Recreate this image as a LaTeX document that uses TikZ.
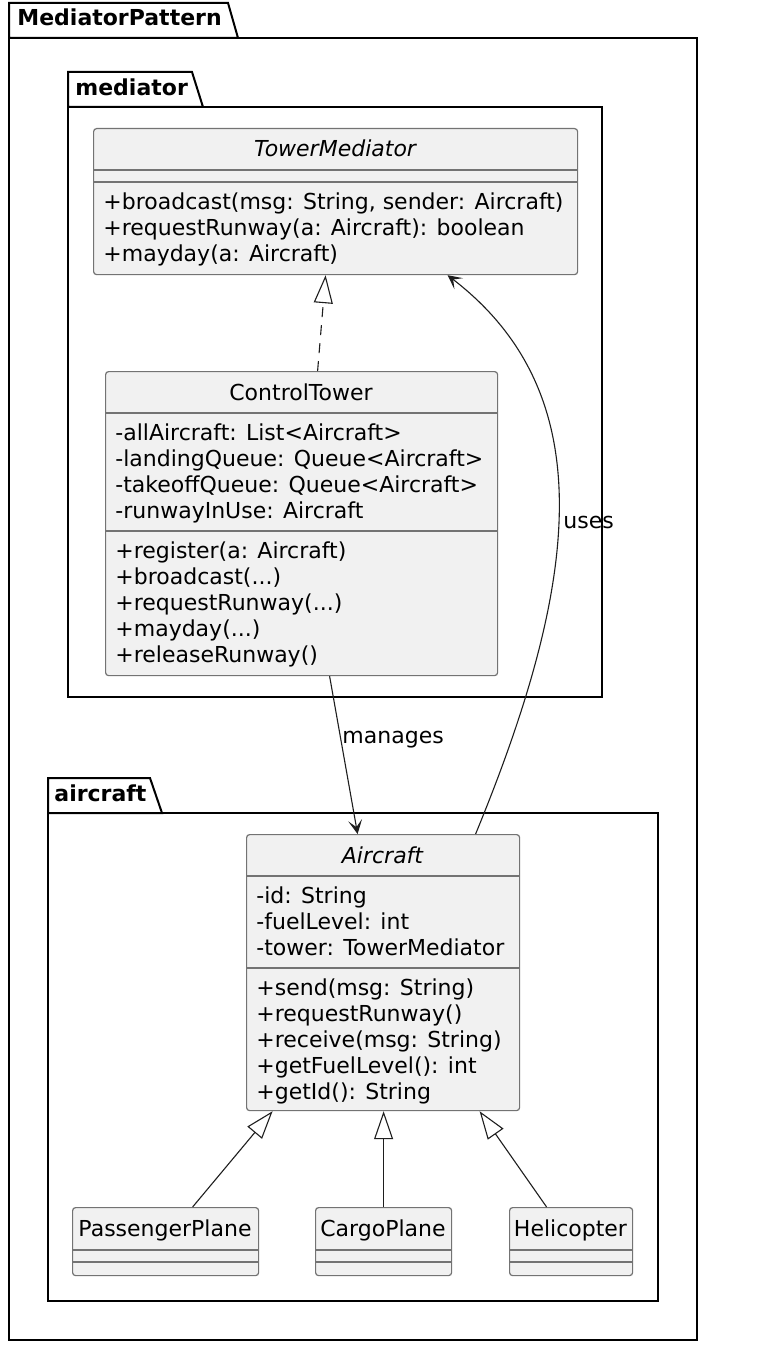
\documentclass[tikz,border=0pt]{standalone}
\usepackage{fontspec}
\setmainfont{DejaVu Sans}
\usepackage{tikz}
\usetikzlibrary{arrows.meta, calc}
\definecolor{umlfill}{RGB}{241,241,241}
\definecolor{umlline}{RGB}{115,115,115}
\definecolor{mydark}{RGB}{30,30,30}
\newcommand{\umlfont}{\fontsize{11pt}{13pt}\selectfont}
\tikzset{
  classbox/.style={rectangle, draw=umlline, fill=umlfill, anchor=north west,
    rounded corners=1.5pt, line width=0.6pt, inner sep=0pt},
  divline/.style={draw=umlline, line width=0.6pt},
  pkgline/.style={draw=black, line width=1pt},
  pkglabel/.style={anchor=base west, inner sep=0pt, font=\umlfont\bfseries},
  clsname/.style={anchor=base, inner sep=0pt, font=\umlfont},
  members/.style={anchor=north west, align=left, inner sep=0pt, font=\umlfont},
  lbl/.style={inner sep=0pt, font=\umlfont, text=black},
  realizes/.style={-{Triangle[open, length=14pt, width=9.5pt]},
    dash pattern=on 5pt off 4pt, line width=0.55pt, color=mydark},
  inherits/.style={-{Triangle[open, length=14pt, width=9.5pt]},
    line width=0.55pt, color=mydark},
  assoc/.style={-{Stealth[length=7pt, width=7pt, inset=3.5pt]},
    line width=0.55pt, color=mydark}
}

\begin{document}
\begin{tikzpicture}[x=0.5pt, y=-0.5pt]
  \path[use as bounding box, fill=white] (0,0) rectangle (756,1348);

  % packages
  \node[pkglabel] (pkgmain) at (17,26) {MediatorPattern};
  \draw[pkgline] (9,3) -- (228,3) -- (238,38) -- (9,38) -- cycle;
  \draw[pkgline] (9,38) rectangle (697,1340);

  \node[pkglabel] (pkgmed) at (75,96) {mediator};
  \draw[pkgline] (68,72) -- (192,72) -- (203,107) -- (68,107) -- cycle;
  \draw[pkgline] (68,107) rectangle (602,697);

  \node[pkglabel] (pkgair) at (54,801) {aircraft};
  \draw[pkgline] (48,778) -- (150,778) -- (162,813) -- (48,813) -- cycle;
  \draw[pkgline] (48,813) rectangle (658,1301);

  % TowerMediator
  \node[classbox, minimum width=242pt, minimum height=73pt] (tm) at (93,128) {};
  \node[clsname, font=\umlfont\itshape] (tmname) at (335,157) {TowerMediator};
  \draw[divline] (tm.west |- 0,170) -- (tm.east |- 0,170);
  \draw[divline] (tm.west |- 0,182) -- (tm.east |- 0,182);
  \node[members] (tmops) at (103,192.3) {+broadcast(msg: String, sender: Aircraft)\\
    +requestRunway(a: Aircraft): boolean\\+mayday(a: Aircraft)};

  % ControlTower
  \node[classbox, minimum width=196pt, minimum height=152pt] (ct) at (105,371) {};
  \node[clsname] (ctname) at (301,400) {ControlTower};
  \draw[divline] (ct.west |- 0,413) -- (ct.east |- 0,413);
  \draw[divline] (ct.west |- 0,531) -- (ct.east |- 0,531);
  \node[members] (ctattr) at (115,423.3) {-allAircraft: List<Aircraft>\\
    -landingQueue: Queue<Aircraft>\\-takeoffQueue: Queue<Aircraft>\\
    -runwayInUse: Aircraft};
  \node[members] (ctops) at (115,541.3) {+register(a: Aircraft)\\+broadcast(...)\\
    +requestRunway(...)\\+mayday(...)\\+releaseRunway()};

  % Aircraft
  \node[classbox, minimum width=136.5pt, minimum height=138pt] (air) at (246,834) {};
  \node[clsname, font=\umlfont\itshape] (airname) at (382.5,863) {Aircraft};
  \draw[divline] (air.west |- 0,876) -- (air.east |- 0,876);
  \draw[divline] (air.west |- 0,968) -- (air.east |- 0,968);
  \node[members] (airattr) at (256,886.3) {-id: String\\-fuelLevel: int\\
    -tower: TowerMediator};
  \node[members] (airops) at (256,978.3) {+send(msg: String)\\+requestRunway()\\
    +receive(msg: String)\\+getFuelLevel(): int\\+getId(): String};

  % subclasses
  \node[classbox, minimum width=93pt, minimum height=34pt] (pp) at (72,1207) {};
  \node[clsname] (ppname) at (165,1236) {PassengerPlane};
  \draw[divline] (pp.west |- 0,1250) -- (pp.east |- 0,1250);
  \draw[divline] (pp.west |- 0,1262) -- (pp.east |- 0,1262);

  \node[classbox, minimum width=68pt, minimum height=34pt] (cp) at (315,1207) {};
  \node[clsname] (cpname) at (383,1236) {CargoPlane};
  \draw[divline] (cp.west |- 0,1250) -- (cp.east |- 0,1250);
  \draw[divline] (cp.west |- 0,1262) -- (cp.east |- 0,1262);

  \node[classbox, minimum width=61.5pt, minimum height=34pt] (heli) at (509,1207) {};
  \node[clsname] (heliname) at (570.5,1236) {Helicopter};
  \draw[divline] (heli.west |- 0,1250) -- (heli.east |- 0,1250);
  \draw[divline] (heli.west |- 0,1262) -- (heli.east |- 0,1262);

  % relations
  \draw[realizes] ($(ct.north)+(16,0)$) -- ($(tm.south)+(-10,0)$);
  \draw[assoc] ($(ct.south)+(28,0)$) -- node[lbl, pos=0.404, anchor=west, xshift=0.5pt] (manlbl) {manages}
    ($(air.north)+(-25.5,0)$);
  \draw[assoc] ($(air.north)+(92.5,0)$) .. controls +(103,-250) and +(156,120) .. ($(tm.south)+(112,0)$);
  \node[lbl, anchor=base west] (useslbl) at (563,528) {uses};

  \draw[inherits] ($(pp.north)+(27,0)$) -- ($(air.south)+(-110.5,0)$);
  \draw[inherits] (cp.north) -- (cp.north |- air.south);
  \draw[inherits] ($(heli.north)+(-24.5,0)$) -- ($(air.south)+(96.5,0)$);
\end{tikzpicture}
\end{document}
